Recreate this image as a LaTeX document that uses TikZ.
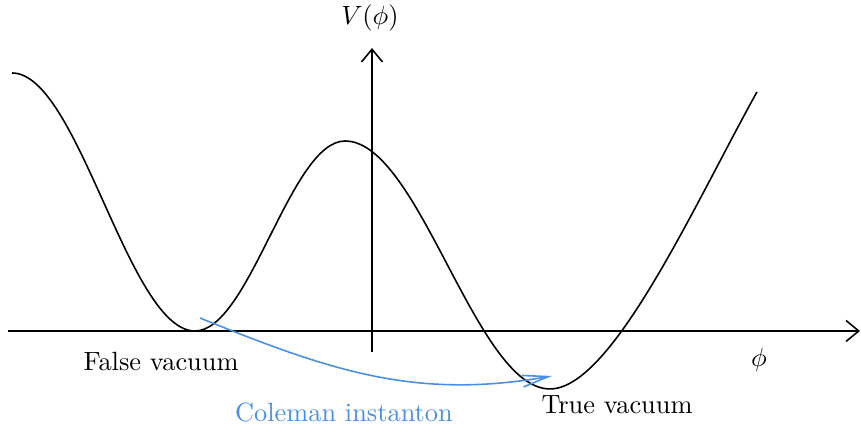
\documentclass[tikz,border=0pt]{standalone}
\usepackage{xcolor}
\usetikzlibrary{arrows.meta}
\definecolor{instblue}{RGB}{74,144,226}
\begin{document}
\begin{tikzpicture}[semithick, every node/.style={font=\normalsize},
        axistip/.style={-{Straight Barb[length=0.17cm, width=0.28cm]}},
        tuntip/.style={-{Straight Barb[length=0.35cm, width=0.155cm]}}]
            \useasboundingbox (-4.96,-1.333) rectangle (6.52,4.413);
            % axes
            \coordinate (xl) at (-4.853,0);
            \coordinate (xr) at (6.507,0);
            \coordinate (yb) at (0,-0.28);
            \coordinate (yt) at (0,3.773);
            \draw[axistip] (xl) -- (xr);
            \draw[axistip] (yb) -- (yt);
            \node (vlab) at (-0.027,4.173) {$V(\phi)$};
            \node (philab) at (5.16,-0.387) {$\phi$};
            % potential
            \coordinate (lstart) at (-4.8,3.44);
            \coordinate (fv) at (-2.36,0);
            \coordinate (top) at (-0.36,2.533);
            \coordinate (tv) at (2.373,-0.773);
            \coordinate (rend) at (5.133,3.187);
            \draw (lstart) .. controls (-3.914,3.44) and (-3.246,0) .. (fv)
                .. controls (-1.634,0) and (-1.086,2.533) .. (top)
                .. controls (0.632,2.533) and (1.381,-0.773) .. (tv)
                .. controls (3.2,-0.773) and (4.3,1.69) .. (rend);
            \node (fvlab) at (-2.813,-0.413) {False vacuum};
            \node (tvlab) at (3.267,-0.987) {True vacuum};
            % tunnelling
            \coordinate (tunA) at (-2.293,0.173);
            \coordinate (tunB) at (2.4,-0.6);
            \draw[tuntip, instblue] (tunA) to[out=-22, in=190] (tunB);
            \node[instblue] (instlab) at (-0.373,-1.093) {Coleman instanton};
        \end{tikzpicture}
\end{document}
